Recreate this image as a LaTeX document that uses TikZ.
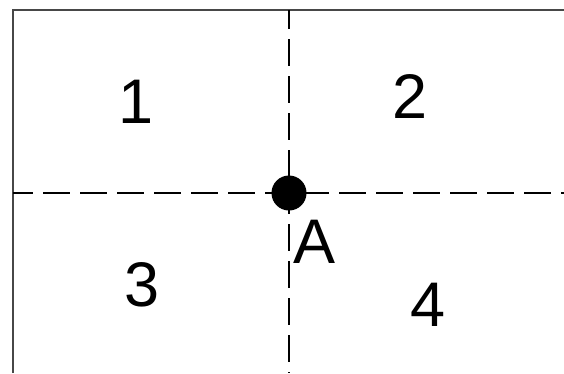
\documentclass[tikz,border=0pt]{standalone}
\usepackage{fontspec}
\setmainfont{Liberation Sans}
\usetikzlibrary{positioning}
\tikzset{
  frameline/.style={draw=black!72,line width=2.8pt},
  guideline/.style={draw=black,line width=1.8pt,dash pattern=on 27pt off 10pt},
  quadlabel/.style={font=\fontsize{63}{63}\selectfont,inner sep=0pt},
  pointdot/.style={circle,fill=black,minimum size=35pt,inner sep=0pt}
}
\begin{document}
\begin{tikzpicture}[x=1pt,y=-1pt]
    \path[use as bounding box] (0,0) rectangle (564,373);

    % open frame, no bottom edge
    \coordinate (bl) at (13,373);
    \coordinate (tl) at (13,10);
    \coordinate (tr) at (565,10);
    \coordinate (br) at (565,373);
    \draw[frameline] (bl) -- (tl) -- (tr) -- (br);

    % dashed guides through A
    \coordinate (hleft) at (13,193);
    \coordinate (hright) at (564,193);
    \coordinate (vtop) at (289,10);
    \coordinate (vbot) at (289,373);
    \draw[guideline,dash phase=7pt] (hleft) -- (hright);
    \draw[guideline,dash phase=8pt] (vtop) -- (vbot);

    \node[pointdot] (pa) at (289,193) {};

    \node[quadlabel] (q1) at (136,102) {1};
    \node[quadlabel] (q2) at (410,96) {2};
    \node[quadlabel] (q3) at (142,285) {3};
    \node[quadlabel] (q4) at (428,305) {4};
    \node[quadlabel] (la) at (315,242) {A};
  \end{tikzpicture}
\end{document}
